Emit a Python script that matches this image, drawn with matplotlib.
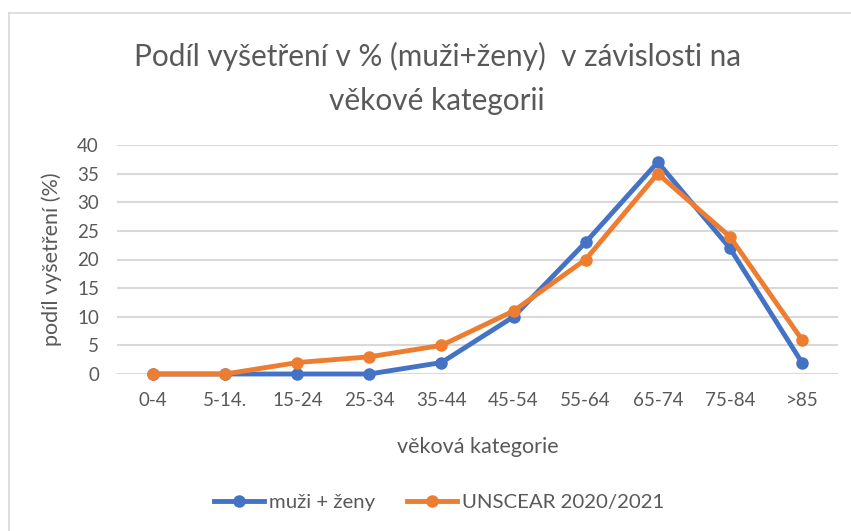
import matplotlib.pyplot as plt
from matplotlib.lines import Line2D

# age categories and shares (%)
categories = ['0-4', '5-14.', '15-24', '25-34', '35-44', '45-54', '55-64', '65-74', '75-84', '>85']
muzi_zeny = [0, 0, 0, 0, 2, 10, 23, 37, 22, 2]
unscear = [0, 0, 2, 3, 5, 11, 20, 35, 24, 6]

plt.rcParams['font.family'] = ['Lato', 'DejaVu Sans']
grey = '#595959'

W, H = 851, 531
fig = plt.figure(figsize=(W / 100, H / 100), dpi=100)

# axes box taken from the pixel positions in the reference
x0, x1 = 117, 838
y_top, y_bot = 145, 374
ax = fig.add_axes([x0 / W, 1 - y_bot / H, (x1 - x0) / W, (y_bot - y_top) / H])

x = list(range(len(categories)))
ax.plot(x, muzi_zeny, color='#4472C4', lw=3.5, marker='o', ms=8,
        label='muži + ženy', clip_on=False, zorder=3)
ax.plot(x, unscear, color='#ED7D31', lw=3.5, marker='o', ms=8,
        label='UNSCEAR 2020/2021', clip_on=False, zorder=4)

ax.set_xlim(-0.5, len(categories) - 0.5)
ax.set_ylim(0, 40)
ax.set_yticks(range(0, 41, 5))
ax.set_xticks(x)
ax.set_xticklabels(categories)
ax.grid(axis='y', color='#D9D9D9', lw=1.5)
ax.set_axisbelow(True)
for s in ax.spines.values():
    s.set_visible(False)
ax.tick_params(length=0, colors=grey, labelsize=13.5)
ax.tick_params(axis='x', pad=13)
ax.tick_params(axis='y', pad=13)

ax.set_ylabel('podíl vyšetření (%)', color=grey, fontsize=15.5)
ax.yaxis.set_label_coords((52 - x0) / (x1 - x0), 0.5)
ax.set_xlabel('věková kategorie', color=grey, fontsize=15.5)
ax.xaxis.set_label_coords(0.5, -(447 - y_bot) / (y_bot - y_top))
ax.xaxis.label.set_va('center')
ax.yaxis.label.set_va('center')

fig.text(437 / W, 1 - 56 / H, 'Podíl vyšetření v % (muži+ženy)  v závislosti na',
         ha='center', va='center', color=grey, fontsize=21.4)
fig.text(437 / W, 1 - 101 / H, 'věkové kategorii',
         ha='center', va='center', color=grey, fontsize=21.4)

fig.legend(loc='center', bbox_to_anchor=(439 / W, 1 - 502 / H), ncol=2, frameon=False,
           fontsize=14.7, labelcolor=grey, handlelength=2.45, handletextpad=0.25,
           columnspacing=1.55)

# light chart border (top and left edges visible)
fig.add_artist(Line2D([8.5 / W, 1], [1 - 13 / H, 1 - 13 / H], color='#D9D9D9', lw=1.2))
fig.add_artist(Line2D([8.5 / W, 8.5 / W], [0, 1 - 13 / H], color='#D9D9D9', lw=1.2))

fig.savefig('out.png', dpi=100)
